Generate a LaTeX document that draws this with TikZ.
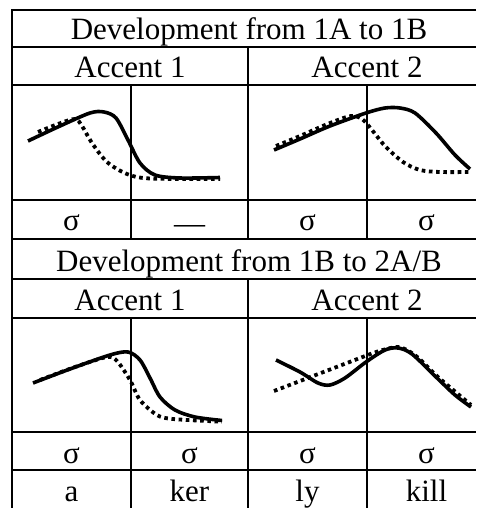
\documentclass[tikz,border=0pt]{standalone}
\usepackage{fontspec}
\setmainfont{Liberation Serif}
\begin{document}
\begin{tikzpicture}[x=1pt, y=-1pt, rule/.style={line width=2.6pt}, lbl/.style={anchor=base, inner sep=0pt, font=\fontsize{31}{36}\selectfont}, newc/.style={line width=3.6pt}, oldc/.style={line width=3.8pt, dash pattern=on 3.6pt off 3.6pt}]
\useasboundingbox (0,0) rectangle (476,508);
% grid
\draw[rule] (476,10) -- (12,10) -- (12,508);
\foreach \y in {47,85,200,239,279,318,432,470} \draw[rule] (12,\y) -- (476,\y);
\draw[rule] (248,47) -- (248,239); \draw[rule] (248,279) -- (248,508);
\foreach \x in {131,367} {\draw[rule] (\x,85) -- (\x,239); \draw[rule] (\x,318) -- (\x,508);}
% texts
\node[lbl] (dev1) at (249,40) {Development from 1A to 1B};
\node[lbl] (acc11) at (130,78) {Accent 1};
\node[lbl] (acc12) at (367,78) {Accent 2};
\node[lbl] (syl11) at (71.5,230) {σ};
\node[lbl] (syl12) at (189.5,230) {\raisebox{-3pt}{—}};
\node[lbl] (syl13) at (307.5,230) {σ};
\node[lbl] (syl14) at (426.5,230) {σ};
\node[lbl] (dev2) at (249,271.5) {Development from 1B to 2A/B};
\node[lbl] (acc21) at (130,310) {Accent 1};
\node[lbl] (acc22) at (367,310) {Accent 2};
\node[lbl] (syl21) at (71.5,463) {σ};
\node[lbl] (syl22) at (189.5,463) {σ};
\node[lbl] (syl23) at (307.5,463) {σ};
\node[lbl] (syl24) at (426.5,463) {σ};
\node[lbl] (wa) at (71.5,501.5) {a};
\node[lbl] (wker) at (189.5,501.5) {ker};
\node[lbl] (wly) at (307.5,501.5) {ly};
\node[lbl] (wkill) at (426.5,501.5) {kill};
% contours
\draw[oldc] plot[smooth] coordinates {(38,132) (58,124) (75,119) (82,126) (92,143) (107,162) (127,174) (150,178.5) (220,179)};
\draw[newc] plot[smooth] coordinates {(28,141) (60,126) (90,113) (104,112) (116,118) (128,140) (140,163) (155,175) (180,178) (220,177.5)};
\draw[oldc] plot[smooth] coordinates {(276,146) (300,136) (330,123) (351,116) (362,119) (372,130) (385,146) (403,162) (420,170) (440,172) (471,172)};
\draw[newc] plot[smooth] coordinates {(274,150) (300,139) (330,126) (366,113) (385,108) (400,108) (415,113) (436,133) (455,155) (470,169)};
\draw[oldc] plot[smooth] coordinates {(40,380) (75,367) (107,357) (117,361) (130,380) (140,400) (157,415) (173,419) (222,421.7)};
\draw[newc] plot[smooth] coordinates {(33,383) (70,369) (110,355) (128,352) (140,360) (150,378) (160,397) (175,410) (195,417) (222,420.5)};
\draw[oldc] (274,391) -- plot[smooth] coordinates {(373,353) (398,347) (416,356) (438,377) (471,405)};
\draw[newc] plot[smooth] coordinates {(276,360) (300,372) (318,383) (330,385) (345,378) (366,362) (385,350) (398,348) (412,354) (436,377) (455,395) (471,407)};
\end{tikzpicture}
\end{document}
